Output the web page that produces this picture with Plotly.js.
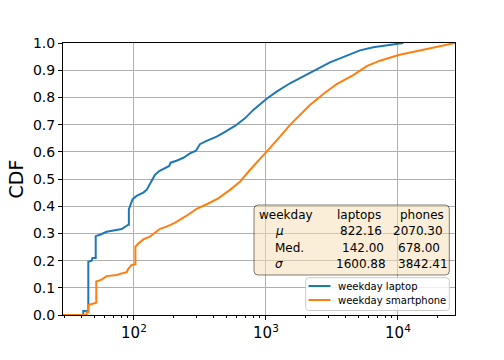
<!DOCTYPE html>
<html>
<head>
<meta charset="utf-8">
<script src="https://cdn.plot.ly/plotly-3.0.1.min.js"></script>
<style>html,body{margin:0;padding:0;background:#fff;}#chart{width:504px;height:360px;}</style>
</head>
<body>
<div id="chart"></div>
<script>
// ---- data ----
const laptopX = [29, 41.3, 41.3, 45.1, 45.1, 47.8, 48.5, 51.3, 51.3, 55.3, 62.1, 71.8, 80.7, 90.6, 91.5, 91.5, 94.4, 97.7, 104.8, 117.7, 124.8, 130.7, 136, 144, 155.5, 171.7, 185, 189.5, 210, 236.6, 265.6, 295, 316, 355, 423, 475, 534, 582, 693, 802, 1012, 1205, 1521, 1918, 2421, 3055, 4085, 5155, 6500, 8200, 10965];
const laptopCdf = [0, 0, 0.015, 0.015, 0.196, 0.2, 0.21, 0.21, 0.29, 0.295, 0.306, 0.31, 0.316, 0.332, 0.332, 0.389, 0.41, 0.426, 0.438, 0.45, 0.46, 0.478, 0.496, 0.515, 0.529, 0.539, 0.548, 0.56, 0.567, 0.578, 0.594, 0.604, 0.628, 0.64, 0.656, 0.670, 0.684, 0.695, 0.723, 0.754, 0.795, 0.821, 0.852, 0.879, 0.903, 0.929, 0.955, 0.973, 0.984, 0.991, 1.0];

const phoneX = [29, 43.8, 43.8, 45.1, 45.1, 50.6, 51.8, 51.8, 56.9, 62.1, 73.9, 80.7, 88, 90.6, 96, 102.5, 102.5, 108, 117.7, 132, 144, 157.5, 176.7, 204, 250.6, 298.5, 365.6, 435, 534, 635, 756, 901, 1040, 1277, 1521, 2154, 2719, 3436, 3855, 4584, 5795, 7308, 10120, 13060, 17460, 23370, 27040];
const phoneCdf = [0, 0, 0.01, 0.01, 0.037, 0.045, 0.045, 0.123, 0.13, 0.143, 0.147, 0.153, 0.157, 0.17, 0.184, 0.186, 0.251, 0.263, 0.278, 0.288, 0.303, 0.317, 0.325, 0.339, 0.365, 0.39, 0.41, 0.429, 0.46, 0.49, 0.533, 0.576, 0.607, 0.656, 0.699, 0.772, 0.8125, 0.849, 0.861, 0.882, 0.915, 0.935, 0.956, 0.968, 0.982, 0.993, 1.0];

const seriesNames = ['weekday laptop', 'weekday smartphone'];
const seriesColors = ['#1f77b4', '#ff7f0e'];
const xTickVals = [100, 1000, 10000];
const xTickText = ['10<sup>2</sup>', '10<sup>3</sup>', '10<sup>4</sup>'];

const statHeader = ['weekday', 'laptops', 'phones'];
const statLabels = ['<i>μ</i>', 'Med.', '<i>σ</i>'];
const laptopStats = [822.16, 142.00, 1600.88];
const phoneStats = [2070.30, 678.00, 3842.41];

// ---- layout helpers (pixel -> paper) ----
const L = 63, R = 455, T = 43, B = 315;
const px = x => (x - L) / (R - L);
const py = y => (B - y) / (B - T);

const FONT = 'DejaVu Sans, Liberation Sans, sans-serif';

const traces = [
  {x: laptopX, y: laptopCdf, type: 'scatter', mode: 'lines', name: seriesNames[0],
   line: {color: seriesColors[0], width: 2}, showlegend: false},
  {x: phoneX, y: phoneCdf, type: 'scatter', mode: 'lines', name: seriesNames[1],
   line: {color: seriesColors[1], width: 2}, showlegend: false}
];

// minor tick positions 2..9 x 10^k
const minorVals = [];
for (let k = 1; k <= 4; k++) for (let m = 2; m <= 9; m++) minorVals.push(m * Math.pow(10, k));

function roundedBox(x0p, x1p, y0p, y1p, r) {
  const x0 = px(x0p), x1 = px(x1p), y0 = py(y1p), y1 = py(y0p);
  const rx = r / (R - L), ry = r / (B - T);
  return `M ${x0 + rx},${y0} L ${x1 - rx},${y0} Q ${x1},${y0} ${x1},${y0 + ry} ` +
    `L ${x1},${y1 - ry} Q ${x1},${y1} ${x1 - rx},${y1} L ${x0 + rx},${y1} ` +
    `Q ${x0},${y1} ${x0},${y1 - ry} L ${x0},${y0 + ry} Q ${x0},${y0} ${x0 + rx},${y0} Z`;
}

const annotations = [];
const rowY = [215, 231, 248, 263.5];
const hdrX = [258.3, 336, 399];
statHeader.forEach((t, i) => annotations.push({text: t, x: px(hdrX[i]), y: py(rowY[0]), size: 12}));
const lapX = [339.3, 340.7, 335];
const phX = [391.7, 397, 396.7];
statLabels.forEach((t, i) => {
  annotations.push({text: t, x: px(274), y: py(rowY[i + 1]), size: 12});
  annotations.push({text: laptopStats[i].toFixed(2), x: px(lapX[i]), y: py(rowY[i + 1]), size: 12});
  annotations.push({text: phoneStats[i].toFixed(2), x: px(phX[i]), y: py(rowY[i + 1]), size: 12});
});
// legend
const legRowY = [286, 300];
const shapes = [
  {type: 'path', xref: 'paper', yref: 'paper', path: roundedBox(254, 449.3, 205, 275, 4),
   fillcolor: 'rgba(245,222,179,0.5)', line: {color: 'rgba(0,0,0,0.5)', width: 1}, layer: 'above'},
  {type: 'path', xref: 'paper', yref: 'paper', path: roundedBox(305.7, 449.3, 277.7, 310.5, 3),
   fillcolor: 'rgba(255,255,255,0.8)', line: {color: '#cccccc', width: 1}, layer: 'above'}
];
seriesNames.forEach((n, i) => {
  shapes.push({type: 'line', xref: 'paper', yref: 'paper', x0: px(308.5), x1: px(330.5),
    y0: py(legRowY[i]), y1: py(legRowY[i]), line: {color: seriesColors[i], width: 2}, layer: 'above'});
  annotations.push({text: n, x: px(337), y: py(legRowY[i]), size: 10});
});
annotations.forEach(a => {
  const s = a.size; delete a.size;
  Object.assign(a, {xref: 'paper', yref: 'paper', xanchor: 'left', yanchor: 'middle',
    showarrow: false, borderpad: 0, font: {family: FONT, size: s, color: '#000'}});
});

const layout = {
  width: 504, height: 360,
  margin: {l: L, r: 504 - R, t: T, b: 360 - B},
  paper_bgcolor: '#fff', plot_bgcolor: '#fff',
  font: {family: FONT, size: 14, color: '#000'},
  showlegend: false,
  xaxis: {
    type: 'log', range: [Math.log10(29), Math.log10(27040)],
    tickmode: 'array', tickvals: xTickVals, ticktext: xTickText,
    ticks: 'outside', ticklen: 4, tickwidth: 1, tickcolor: '#000',
    showgrid: true, gridcolor: '#b0b0b0', gridwidth: 1,
    showline: true, linecolor: '#000', linewidth: 1, mirror: true,
    zeroline: false, tickfont: {size: 15},
    minor: {tickmode: 'array', tickvals: minorVals, ticks: 'outside', ticklen: 2, tickwidth: 1, tickcolor: '#000', showgrid: false}
  },
  yaxis: {
    range: [0, 1], tickmode: 'linear', tick0: 0, dtick: 0.1, tickformat: '.1f',
    ticks: 'outside', ticklen: 4, tickwidth: 1, tickcolor: '#000',
    showgrid: true, gridcolor: '#b0b0b0', gridwidth: 1,
    showline: true, linecolor: '#000', linewidth: 1, mirror: true,
    zeroline: false, tickfont: {size: 14},
    title: {text: 'CDF', font: {size: 19}, standoff: 4}
  },
  shapes: shapes,
  annotations: annotations
};

Plotly.newPlot('chart', traces, layout, {staticPlot: true, displayModeBar: false});
</script>
</body>
</html>
